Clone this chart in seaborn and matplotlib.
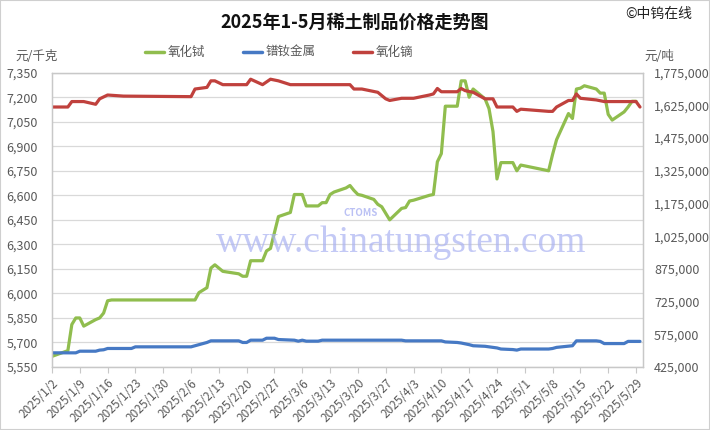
import pandas as pd
import matplotlib.pyplot as plt
import matplotlib.dates as mdates
import seaborn as sns
from matplotlib.lines import Line2D
from matplotlib.patches import Rectangle
from matplotlib.ticker import FixedLocator, FuncFormatter

# 氧化铽 (元/千克, left axis)
tb_dates = ['2025-01-02', '2025-01-06', '2025-01-07', '2025-01-08', '2025-01-09', '2025-01-10',
            '2025-01-13', '2025-01-14', '2025-01-15', '2025-01-16', '2025-01-17',
            '2025-02-06', '2025-02-07', '2025-02-08', '2025-02-10', '2025-02-11', '2025-02-12',
            '2025-02-14', '2025-02-18', '2025-02-19', '2025-02-20', '2025-02-21', '2025-02-24',
            '2025-02-25', '2025-02-26', '2025-02-28',
            '2025-03-03', '2025-03-04', '2025-03-06', '2025-03-07', '2025-03-10', '2025-03-11',
            '2025-03-12', '2025-03-13', '2025-03-14', '2025-03-17', '2025-03-18', '2025-03-19',
            '2025-03-20', '2025-03-21', '2025-03-24', '2025-03-25', '2025-03-26', '2025-03-28',
            '2025-03-31',
            '2025-04-01', '2025-04-02', '2025-04-03', '2025-04-07', '2025-04-08', '2025-04-09',
            '2025-04-10', '2025-04-11', '2025-04-14', '2025-04-15', '2025-04-16', '2025-04-17',
            '2025-04-18', '2025-04-21', '2025-04-22', '2025-04-23', '2025-04-24', '2025-04-25',
            '2025-04-28', '2025-04-29', '2025-04-30',
            '2025-05-07', '2025-05-08', '2025-05-09', '2025-05-12', '2025-05-13', '2025-05-14',
            '2025-05-15', '2025-05-16', '2025-05-19', '2025-05-20', '2025-05-21', '2025-05-22',
            '2025-05-23', '2025-05-26', '2025-05-27', '2025-05-28', '2025-05-29']
tb_prices = [5615, 5650, 5810, 5850, 5850, 5800, 5840, 5850, 5880, 5955, 5960,
             5960, 5960, 6005, 6035, 6155, 6175, 6135, 6120, 6105, 6105, 6200, 6200, 6260, 6275, 6470,
             6495, 6605, 6605, 6535, 6535, 6555, 6555, 6605, 6620, 6645, 6660, 6630, 6605, 6600,
             6575, 6545, 6530, 6450, 6520,
             6525, 6565, 6570, 6600, 6605, 6805, 6855, 7145, 7145, 7300, 7300, 7200, 7250, 7190,
             7130, 6990, 6700, 6800, 6800, 6750, 6785,
             6750, 6850, 6940, 7100, 7070, 7250, 7255, 7270, 7250, 7225, 7225, 7095, 7060, 7110,
             7140, 7175, 7175]

# 镨钕金属 (元/吨, right axis)
prnd_dates = ['2025-01-02', '2025-01-08', '2025-01-09', '2025-01-13', '2025-01-14', '2025-01-15',
              '2025-01-16', '2025-01-22', '2025-01-23',
              '2025-02-06', '2025-02-07', '2025-02-10', '2025-02-11', '2025-02-18', '2025-02-19',
              '2025-02-20', '2025-02-21', '2025-02-24', '2025-02-25', '2025-02-27', '2025-02-28',
              '2025-03-04', '2025-03-05', '2025-03-06', '2025-03-07', '2025-03-10', '2025-03-11',
              '2025-03-31',
              '2025-04-01', '2025-04-10', '2025-04-11', '2025-04-14', '2025-04-15', '2025-04-17',
              '2025-04-18', '2025-04-21', '2025-04-22', '2025-04-24', '2025-04-25', '2025-04-28',
              '2025-04-29', '2025-04-30',
              '2025-05-07', '2025-05-08', '2025-05-09', '2025-05-13', '2025-05-14', '2025-05-19',
              '2025-05-20', '2025-05-21', '2025-05-26', '2025-05-27', '2025-05-30']
prnd_prices = [490000, 490000, 497500, 497500, 502500, 504000, 510000, 510000, 517500,
               517500, 522500, 537500, 545000, 545000, 537500, 537500, 548000, 548000, 557000,
               557000, 551000,
               548000, 543500, 548000, 543500, 543500, 548000, 548000,
               545000, 545000, 540000, 537500, 535000, 527500, 522500, 520000, 517500, 512500,
               507500, 505000, 502500, 507500,
               507500, 510000, 515000, 522500, 545000, 545000, 542500, 532500, 532500, 542500,
               542500]

# 氧化镝 (元/吨, right axis)
dy_dates = ['2025-01-02', '2025-01-06', '2025-01-07', '2025-01-10', '2025-01-13', '2025-01-14',
            '2025-01-16', '2025-01-20',
            '2025-02-06', '2025-02-07', '2025-02-10', '2025-02-11', '2025-02-12', '2025-02-14',
            '2025-02-20', '2025-02-21', '2025-02-24', '2025-02-26', '2025-02-28',
            '2025-03-03', '2025-03-18', '2025-03-19', '2025-03-21', '2025-03-25', '2025-03-27',
            '2025-03-28', '2025-03-31',
            '2025-04-03', '2025-04-07', '2025-04-08', '2025-04-09', '2025-04-10', '2025-04-14',
            '2025-04-15', '2025-04-16', '2025-04-18', '2025-04-21', '2025-04-23', '2025-04-24',
            '2025-04-28', '2025-04-29', '2025-04-30',
            '2025-05-07', '2025-05-08', '2025-05-09', '2025-05-12', '2025-05-13', '2025-05-14',
            '2025-05-15', '2025-05-19', '2025-05-21', '2025-05-29', '2025-05-30']
dy_prices = [1617500, 1617500, 1642500, 1642500, 1630000, 1655000, 1672500, 1667500,
             1665000, 1700000, 1707500, 1737500, 1737500, 1720000, 1720000, 1745000, 1720000,
             1745000, 1737500,
             1720000, 1720000, 1700000, 1700000, 1685000, 1655000, 1647500, 1657500,
             1657500, 1672500, 1677500, 1702500, 1687500, 1687500, 1702500, 1692500, 1685000,
             1655000, 1655000, 1617500, 1617500, 1597500, 1607500,
             1597500, 1597500, 1617500, 1647500, 1647500, 1677500, 1657500, 1650000, 1642500,
             1642500, 1617500]

left_ticks = list(range(5550, 7351, 150))
right_ticks = list(range(425000, 1775001, 150000))
week_ticks = pd.date_range('2025-01-02', '2025-05-29', freq='7D')

GREEN = '#90bd4e'
BLUE = '#4679c4'
RED = '#c0413d'

sns.set_theme(style="white")
plt.rcParams['font.family'] = ['Noto Sans CJK SC', 'DejaVu Sans']

tb = pd.DataFrame({'date': pd.to_datetime(tb_dates), 'price': tb_prices})
prnd = pd.DataFrame({'date': pd.to_datetime(prnd_dates), 'price': prnd_prices})
dy = pd.DataFrame({'date': pd.to_datetime(dy_dates), 'price': dy_prices})

fig = plt.figure(figsize=(7.1, 4.3), dpi=100)
ax = fig.add_axes([0.0732, 0.1465, 0.8324, 0.6845])
ax2 = ax.twinx()

sns.lineplot(data=tb, x='date', y='price', ax=ax, color=GREEN, linewidth=2.3, legend=False)
sns.lineplot(data=prnd, x='date', y='price', ax=ax2, color=BLUE, linewidth=2.3, legend=False)
sns.lineplot(data=dy, x='date', y='price', ax=ax2, color=RED, linewidth=2.3, legend=False)

ax.set_xlim(pd.Timestamp('2025-01-02'), pd.Timestamp('2025-05-30 18:00'))
ax.set_ylim(5550, 7350)
ax2.set_ylim(425000, 1775000)
ax.set_yticks(left_ticks)
ax2.set_yticks(right_ticks)
ax.yaxis.set_major_formatter(FuncFormatter(lambda v, p: f"{int(v):,}"))
ax2.yaxis.set_major_formatter(FuncFormatter(lambda v, p: f"{int(v):,}"))

ax.xaxis.set_major_locator(FixedLocator(mdates.date2num(week_ticks)))
ax.xaxis.set_major_formatter(FuncFormatter(
    lambda v, p: f"{mdates.num2date(v).year}/{mdates.num2date(v).month}/{mdates.num2date(v).day}"))
for lab in ax.get_xticklabels():
    lab.set_rotation(45)
    lab.set_ha('right')
    lab.set_rotation_mode('anchor')

ax.set_xlabel('')
ax.set_ylabel('')
ax2.set_ylabel('')

ax.yaxis.grid(True, color='#d9d9d9', linewidth=0.9)
ax.xaxis.grid(False)
ax2.grid(False)
for a in (ax, ax2):
    for s in a.spines.values():
        s.set_color('#c8c8c8')
        s.set_linewidth(0.9)

ax.tick_params(axis='y', length=0, labelsize=9, colors='#595959', pad=10)
ax2.tick_params(axis='y', length=0, labelsize=9, colors='#595959', pad=8)
ax.tick_params(axis='x', bottom=True, length=4, width=0.8, color='#c8c8c8',
               labelsize=8.5, labelcolor='#595959', pad=3)

# watermark
fig.text(0.565, 0.435, 'www.chinatungsten.com', fontsize=27, family='Liberation Serif',
         color='#aab2f2', alpha=0.7, ha='center', va='center', zorder=0)
fig.text(0.508, 0.505, 'CTOMS', fontsize=7, style='italic', weight='bold',
         color='#aab2f2', alpha=0.8, ha='center', va='center')

fig.text(0.5, 0.948, '2025年1-5月稀土制品价格走势图', fontsize=13, weight='bold',
         ha='center', va='center', color='#111111')
fig.text(0.975, 0.967, '©中钨在线', fontsize=10, ha='right', va='center', color='#222222')
fig.text(0.022, 0.868, '元/千克', fontsize=9, ha='left', va='center', color='#595959')
fig.text(0.907, 0.868, '元/吨', fontsize=9, ha='left', va='center', color='#595959')

handles = [Line2D([0], [0], color=GREEN, lw=2.5),
           Line2D([0], [0], color=BLUE, lw=2.5),
           Line2D([0], [0], color=RED, lw=2.5)]
fig.legend(handles, ['氧化铽', '镨钕金属', '氧化镝'], loc='center', ncol=3,
           bbox_to_anchor=(0.393, 0.878), frameon=False, fontsize=9,
           handlelength=1.5, handletextpad=0.3, columnspacing=3.0,
           labelcolor='#595959')

fig.patches.append(Rectangle((0, 0), 1, 1, transform=fig.transFigure, fill=False,
                             edgecolor='#cfcfcf', linewidth=1.5))

fig.savefig('out.png', dpi=100)
